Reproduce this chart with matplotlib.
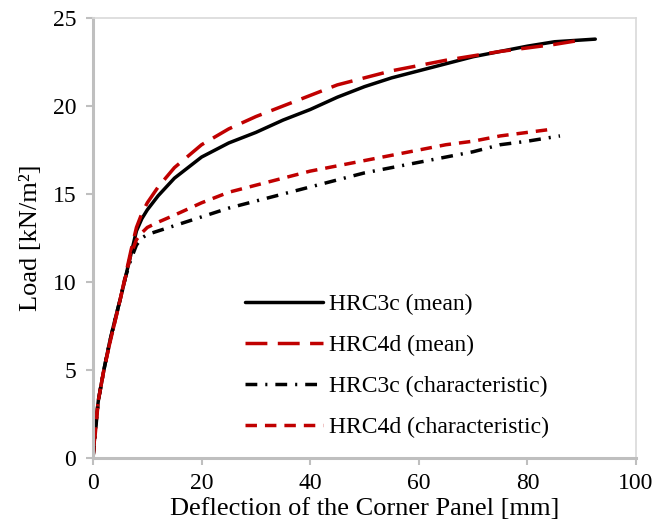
import matplotlib
matplotlib.use("Agg")
import matplotlib.pyplot as plt

# Data
x_3c_mean = [0, 0.5, 1, 2, 3, 4, 5, 6, 7, 8, 9, 10, 12, 15, 20, 25, 30, 35, 40, 45, 50, 55, 60, 65, 70, 75, 80, 85, 90, 92.5]
y_3c_mean = [0, 2.0, 3.3, 5.0, 6.5, 7.8, 9.0, 10.3, 11.6, 12.9, 13.6, 14.1, 14.9, 15.9, 17.1, 17.9, 18.5, 19.2, 19.8, 20.5, 21.1, 21.6, 22.0, 22.4, 22.8, 23.1, 23.4, 23.65, 23.75, 23.8]

x_4d_mean = [0, 0.5, 1, 2, 3, 4, 5, 6, 7, 8, 9, 10, 12, 15, 20, 25, 30, 35, 40, 45, 50, 55, 60, 65, 70, 75, 80, 85, 90]
y_4d_mean = [0, 2.0, 3.3, 5.0, 6.4, 7.7, 9.0, 10.4, 11.8, 13.1, 13.9, 14.5, 15.4, 16.5, 17.8, 18.7, 19.4, 20.0, 20.6, 21.2, 21.6, 22.0, 22.3, 22.6, 22.85, 23.1, 23.3, 23.5, 23.75]

x_3c_char = [0, 1, 2, 3, 4, 5, 6, 7, 8, 9, 10, 12, 15, 20, 25, 30, 35, 40, 45, 50, 55, 60, 65, 70, 75, 80, 86]
y_3c_char = [0, 3.3, 5.0, 6.5, 7.8, 9.0, 10.3, 11.3, 12.1, 12.5, 12.7, 12.9, 13.2, 13.7, 14.2, 14.6, 15.0, 15.4, 15.8, 16.2, 16.5, 16.8, 17.1, 17.4, 17.8, 18.0, 18.3]

x_4d_char = [0, 1, 2, 3, 4, 5, 6, 7, 8, 9, 10, 12, 15, 20, 25, 30, 35, 40, 45, 50, 55, 60, 65, 70, 75, 80, 85]
y_4d_char = [0, 3.3, 5.0, 6.4, 7.7, 9.0, 10.3, 11.6, 12.4, 12.8, 13.1, 13.4, 13.8, 14.5, 15.1, 15.5, 15.9, 16.3, 16.6, 16.9, 17.2, 17.5, 17.8, 18.0, 18.3, 18.5, 18.7]

labels = ["HRC3c (mean)", "HRC4d (mean)", "HRC3c (characteristic)", "HRC4d (characteristic)"]
x_ticks = [0, 20, 40, 60, 80, 100]
y_ticks = [0, 5, 10, 15, 20, 25]

plt.rcParams['font.family'] = ['Liberation Serif', 'DejaVu Serif']

fig = plt.figure(figsize=(6.64, 5.28), dpi=100)
ax = fig.add_axes([93/664, 1-458/528, (636-93)/664, (458-18)/528])

red = '#c00000'
lw = 2.5
ax.plot(x_3c_mean, y_3c_mean, color='black', lw=lw, label=labels[0], solid_capstyle='round')
ax.plot(x_4d_mean, y_4d_mean, color=red, lw=lw, dashes=(6.3, 3.0), label=labels[1])
ax.plot(x_3c_char, y_3c_char, color='black', lw=lw, dashes=(3.4, 2.3, 0.6, 2.3), label=labels[2])
ax.plot(x_4d_char, y_4d_char, color=red, lw=lw, dashes=(3.3, 2.3), label=labels[3])

ax.set_xlim(0, 100)
ax.set_ylim(0, 25)
ax.set_xticks(x_ticks)
ax.set_yticks(y_ticks)
ax.tick_params(axis='both', labelsize=17, color='#bfbfbf', length=5, width=1.5, direction='out')
ax.tick_params(axis='y', pad=7)
ax.tick_params(axis='x', pad=6)

for s in ['left', 'bottom']:
    ax.spines[s].set_color('#bfbfbf')
    ax.spines[s].set_linewidth(2.2)
for s in ['top', 'right']:
    ax.spines[s].set_color('#d9d9d9')
    ax.spines[s].set_linewidth(1.2)

ax.set_xlabel('Deflection of the Corner Panel [mm]', fontsize=19, labelpad=3)
ax.set_ylabel('Load [kN/m²]', fontsize=19, labelpad=8)

leg = ax.legend(loc='upper left', bbox_to_anchor=(0.28, 0.374), frameon=False, fontsize=17,
                handlelength=3.3, handletextpad=0.25, labelspacing=0.83, borderaxespad=0, borderpad=0)

fig.savefig('out.png', dpi=100)
